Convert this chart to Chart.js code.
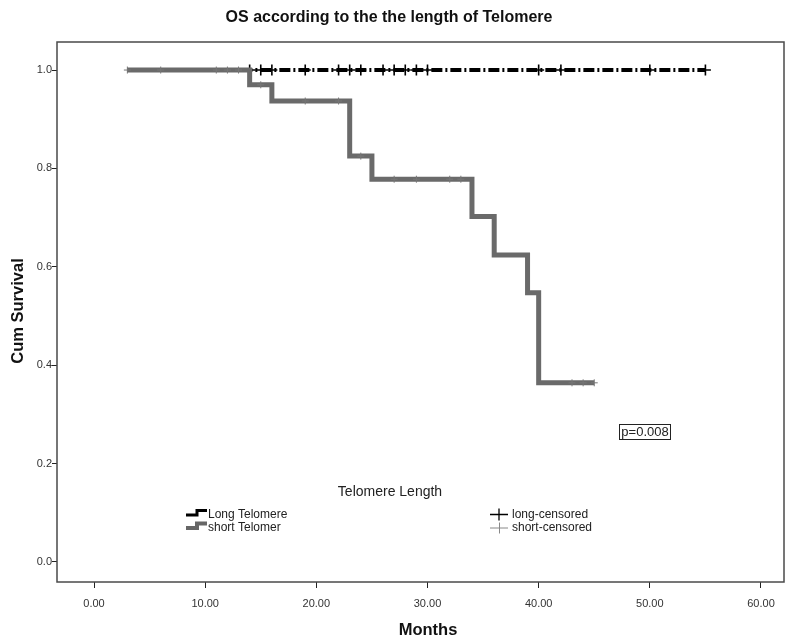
<!DOCTYPE html>
<html>
<head>
<meta charset="utf-8">
<script src="https://cdn.jsdelivr.net/npm/chart.js@4.4.1/dist/chart.umd.min.js"></script>
<style>
html,body{margin:0;padding:0;background:#fff;}
#wrap{width:788px;height:639px;position:relative;}
</style>
</head>
<body>
<div id="wrap"><canvas id="c" width="788" height="639"></canvas></div>
<script>
// ---- data ----
const chartTitle = "OS according to the the length of Telomere";
const xTitle = "Months";
const yTitle = "Cum Survival";
const legendTitle = "Telomere Length";
const seriesNames = ["Long Telomere", "short Telomer"];
const censorNames = ["long-censored", "short-censored"];
const pValueText = "p=0.008";

// Kaplan-Meier step points (time, survival) – value holds until next time
const longTimes = [3, 55];
const longSurv  = [1.0, 1.0];
const shortTimes = [3, 14, 16, 23, 25, 34, 36, 39, 40, 45];
const shortSurv  = [1.0, 0.970, 0.937, 0.825, 0.778, 0.702, 0.624, 0.547, 0.364, 0.364];

// censored observations
const longCensorTimes = [14, 15, 16, 19, 22, 23, 24, 26, 27, 28, 29, 30, 40, 42, 50, 55];
const longCensorSurv  = [1, 1, 1, 1, 1, 1, 1, 1, 1, 1, 1, 1, 1, 1, 1, 1];
const shortCensorTimes = [3, 6, 11, 12, 13, 15, 19, 22, 24, 27, 29, 32, 33, 43, 44, 45];
const shortCensorSurv  = [1, 1, 1, 1, 1, 0.970, 0.937, 0.937, 0.825, 0.778, 0.778, 0.778, 0.778, 0.364, 0.364, 0.364];

const xTicks = [0, 10, 20, 30, 40, 50, 60];
const yTicks = [0, 0.2, 0.4, 0.6, 0.8, 1.0];

const FONT = "'Liberation Sans', Arial, sans-serif";
const pts = (xs, ys) => xs.map((x, i) => ({x: x, y: ys[i]}));

const overlay = {
  id: 'overlay',
  afterDraw(chart) {
    const ctx = chart.ctx;
    const a = chart.chartArea;
    ctx.save();
    // plot frame
    ctx.strokeStyle = '#4a4a4a';
    ctx.lineWidth = 1.5;
    ctx.strokeRect(a.left, a.top, a.right - a.left, a.bottom - a.top);

    // title
    ctx.fillStyle = '#111';
    ctx.textAlign = 'center';
    ctx.textBaseline = 'middle';
    ctx.font = "bold 16px " + FONT;
    ctx.fillText(chartTitle, 389, 18);

    // axis titles
    ctx.font = "bold 16.5px " + FONT;
    ctx.fillText(xTitle, 428, 630);
    ctx.save();
    ctx.translate(18, 311);
    ctx.rotate(-Math.PI / 2);
    ctx.fillText(yTitle, 0, 0);
    ctx.restore();

    // legend
    ctx.font = "14px " + FONT;
    ctx.fillStyle = '#222';
    ctx.fillText(legendTitle, 390, 492);
    ctx.textAlign = 'left';
    ctx.font = "12px " + FONT;
    ctx.fillText(seriesNames[0], 208, 514.5);
    ctx.fillText(seriesNames[1], 208, 528);
    ctx.fillText(censorNames[0], 512, 514.5);
    ctx.fillText(censorNames[1], 512, 528);
    // series icons (little steps)
    ctx.lineCap = 'butt';
    ctx.strokeStyle = '#000';
    ctx.lineWidth = 3;
    ctx.beginPath();
    ctx.moveTo(186, 515); ctx.lineTo(197, 515); ctx.lineTo(197, 510.5); ctx.lineTo(207, 510.5);
    ctx.stroke();
    ctx.strokeStyle = '#666';
    ctx.lineWidth = 4;
    ctx.beginPath();
    ctx.moveTo(186, 528); ctx.lineTo(197, 528); ctx.lineTo(197, 523.5); ctx.lineTo(207, 523.5);
    ctx.stroke();
    // censor icons
    ctx.strokeStyle = '#000';
    ctx.lineWidth = 1.3;
    ctx.beginPath();
    ctx.moveTo(490, 514.5); ctx.lineTo(508, 514.5);
    ctx.moveTo(499, 508.5); ctx.lineTo(499, 520.5);
    ctx.stroke();
    ctx.strokeStyle = '#888';
    ctx.lineWidth = 1;
    ctx.beginPath();
    ctx.moveTo(490, 528); ctx.lineTo(508, 528);
    ctx.moveTo(499.5, 522.5); ctx.lineTo(499.5, 533.5);
    ctx.stroke();

    // p-value box
    ctx.font = "13px " + FONT;
    ctx.fillStyle = '#222';
    ctx.textAlign = 'center';
    ctx.fillText(pValueText, 645, 432.5);
    ctx.strokeStyle = '#222';
    ctx.lineWidth = 1;
    ctx.strokeRect(619.5, 424.5, 51, 15);
    ctx.restore();
  }
};

new Chart(document.getElementById('c'), {
  type: 'scatter',
  data: {
    datasets: [
      {
        label: censorNames[1], data: pts(shortCensorTimes, shortCensorSurv),
        showLine: false, pointStyle: 'cross', pointRadius: 3.5, pointBorderWidth: 1,
        borderColor: '#777', order: 0
      },
      {
        label: seriesNames[1], data: pts(shortTimes, shortSurv),
        showLine: true, stepped: 'before', borderColor: '#6a6a6a', borderWidth: 5,
        pointRadius: 0, fill: false, order: 1
      },
      {
        label: censorNames[0], data: pts(longCensorTimes, longCensorSurv),
        showLine: false, pointStyle: 'cross', pointRadius: 5.5, pointBorderWidth: 1.6,
        borderColor: '#000', order: 2
      },
      {
        label: seriesNames[0], data: pts(longTimes, longSurv),
        showLine: true, stepped: 'before', borderColor: '#000', borderWidth: 4,
        borderDash: [11, 3, 2, 3], pointRadius: 0, fill: false, order: 3
      }
    ]
  },
  options: {
    responsive: false,
    animation: false,
    devicePixelRatio: 1,
    layout: {autoPadding: false, padding: {top: 42, right: 4, left: 0, bottom: 0}},
    plugins: {legend: {display: false}, tooltip: {enabled: false}, title: {display: false}},
    scales: {
      x: {
        type: 'linear', min: -3.33, max: 62.07,
        afterFit(s) { s.height = 57; s.paddingLeft = 0; s.paddingRight = 0; },
        afterBuildTicks(s) { s.ticks = xTicks.map(v => ({value: v})); },
        grid: {display: true, drawOnChartArea: false, drawTicks: true, tickLength: 6, tickColor: '#222', tickWidth: 1},
        border: {display: false},
        ticks: {font: {family: FONT, size: 11}, color: '#333', padding: 9,
                callback: v => Number(v).toFixed(2), maxRotation: 0}
      },
      y: {
        type: 'linear', min: -0.041, max: 1.057,
        afterFit(s) { s.width = 57; s.paddingTop = 0; s.paddingBottom = 0; },
        afterBuildTicks(s) { s.ticks = yTicks.map(v => ({value: v})); },
        grid: {display: true, drawOnChartArea: false, drawTicks: true, tickLength: 5, tickColor: '#222', tickWidth: 1},
        border: {display: false},
        ticks: {font: {family: FONT, size: 11}, color: '#333', padding: 0,
                callback: v => Number(v).toFixed(1)}
      }
    }
  },
  plugins: [overlay]
});
</script>
</body>
</html>
